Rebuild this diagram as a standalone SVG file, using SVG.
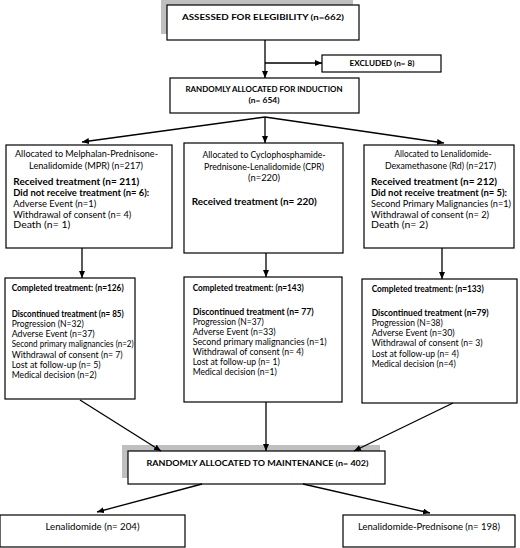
<svg xmlns="http://www.w3.org/2000/svg" width="520" height="548" viewBox="0 0 520 548">
<defs>
<marker id="ah" markerUnits="userSpaceOnUse" markerWidth="7" markerHeight="6" refX="7" refY="3" orient="auto">
<path d="M0,0 L7,3 L0,6 z" fill="#000"/>
</marker>
<style>
.box{fill:#fff;stroke:#000;stroke-width:1.2}
.sh{fill:#bfbfbf;stroke:none}
.t{font-family:Lato,"Liberation Sans",Arial,sans-serif;font-size:8.8px;fill:#000}
.b{font-weight:bold;font-size:9.1px}
.s{font-size:8.5px}
.s.b{font-size:8.7px}
.h{font-family:Lato,"Liberation Sans",Arial,sans-serif;font-size:8px;font-weight:bold;fill:#000}
.c{text-anchor:middle}
.ln{stroke:#000;stroke-width:1.3;fill:none}
</style>
</defs>
<rect width="520" height="548" fill="#fff"/>

<g id="assessed">
<rect class="sh" x="161" y="-1" width="192" height="35"/>
<rect class="box" x="167" y="5" width="192" height="35"/>
<text class="h c" x="263" y="20" textLength="162" lengthAdjust="spacingAndGlyphs">ASSESSED FOR ELEGIBILITY (n=662)</text>
</g>

<g id="excluded">
<rect class="box" x="322" y="55" width="119" height="17"/>
<text class="h c" x="382" y="66" style="font-size:7px" textLength="65" lengthAdjust="spacingAndGlyphs">EXCLUDED (n= 8)</text>
</g>

<g id="induction">
<rect class="box" x="170" y="78" width="189" height="35"/>
<text class="h c" x="264" y="92" style="font-size:7.6px" textLength="157" lengthAdjust="spacingAndGlyphs">RANDOMLY ALLOCATED FOR INDUCTION</text>
<text class="h c" x="264" y="103" style="font-size:7.6px" textLength="31" lengthAdjust="spacingAndGlyphs">(n= 654)</text>
</g>

<g id="mpr">
<rect class="box" x="6" y="145" width="166" height="103"/>
<text class="t c" x="86.5" y="157" textLength="143" lengthAdjust="spacingAndGlyphs">Allocated to Melphalan-Prednisone-</text>
<text class="t c" x="86" y="169" textLength="114" lengthAdjust="spacingAndGlyphs">Lenalidomide (MPR) (n=217)</text>
<text class="t b" x="13.3" y="185" textLength="126" lengthAdjust="spacingAndGlyphs">Received treatment (n= 211)</text>
<text class="t b" x="13.3" y="196" textLength="136" lengthAdjust="spacingAndGlyphs">Did not receive treatment (n= 6):</text>
<text class="t" x="13.3" y="207" textLength="83" lengthAdjust="spacingAndGlyphs">Adverse Event (n=1)</text>
<text class="t" x="13.3" y="218" textLength="118" lengthAdjust="spacingAndGlyphs">Withdrawal of consent (n= 4)</text>
<text class="t" x="13.3" y="228" textLength="57" lengthAdjust="spacingAndGlyphs">Death (n= 1)</text>
</g>

<g id="cpr">
<rect class="box" x="184" y="143" width="159" height="110"/>
<text class="t c" x="264" y="158" textLength="123" lengthAdjust="spacingAndGlyphs">Allocated to Cyclophosphamide-</text>
<text class="t c" x="264" y="170" textLength="120" lengthAdjust="spacingAndGlyphs">Prednisone-Lenalidomide (CPR)</text>
<text class="t c" x="264" y="181" textLength="32" lengthAdjust="spacingAndGlyphs">(n=220)</text>
<text class="t b" x="191.7" y="205" textLength="125" lengthAdjust="spacingAndGlyphs">Received treatment (n= 220)</text>
</g>

<g id="rd">
<rect class="box" x="364" y="145" width="150" height="103"/>
<text class="t c" x="443" y="157" textLength="97" lengthAdjust="spacingAndGlyphs">Allocated to Lenalidomide-</text>
<text class="t c" x="440.5" y="169" textLength="111" lengthAdjust="spacingAndGlyphs">Dexamethasone (Rd) (n=217)</text>
<text class="t b" x="371" y="185" textLength="126" lengthAdjust="spacingAndGlyphs">Received treatment (n= 212)</text>
<text class="t b" x="371" y="196" textLength="136" lengthAdjust="spacingAndGlyphs">Did not receive treatment (n= 5):</text>
<text class="t" x="371" y="207" textLength="140" lengthAdjust="spacingAndGlyphs">Second Primary Malignancies (n=1)</text>
<text class="t" x="371" y="218" textLength="118" lengthAdjust="spacingAndGlyphs">Withdrawal of consent (n= 2)</text>
<text class="t" x="371" y="228" textLength="57" lengthAdjust="spacingAndGlyphs">Death (n= 2)</text>
</g>

<g id="mpr2">
<rect class="box" x="5" y="278" width="130" height="121"/>
<text class="t s b" x="11.7" y="291" textLength="112" lengthAdjust="spacingAndGlyphs">Completed treatment: (n=126)</text>
<text class="t s b" x="11.7" y="317" textLength="112" lengthAdjust="spacingAndGlyphs">Discontinued treatment (n= 85)</text>
<text class="t s" x="11.7" y="327" textLength="72" lengthAdjust="spacingAndGlyphs">Progression (N=32)</text>
<text class="t s" x="11.7" y="337" textLength="83" lengthAdjust="spacingAndGlyphs">Adverse Event (n=37)</text>
<text class="t s" x="11.7" y="347" textLength="122" lengthAdjust="spacingAndGlyphs">Second primary malignancies (n=2)</text>
<text class="t s" x="11.7" y="358" textLength="111" lengthAdjust="spacingAndGlyphs">Withdrawal of consent (n= 7)</text>
<text class="t s" x="11.7" y="368" textLength="89" lengthAdjust="spacingAndGlyphs">Lost at follow-up (n= 5)</text>
<text class="t s" x="11.7" y="378" textLength="85" lengthAdjust="spacingAndGlyphs">Medical decision (n=2)</text>
</g>

<g id="cpr2">
<rect class="box" x="184" y="277" width="158" height="125"/>
<text class="t s b" x="192.7" y="291" textLength="111" lengthAdjust="spacingAndGlyphs">Completed treatment: (n=143)</text>
<text class="t s b" x="192.7" y="315" textLength="121" lengthAdjust="spacingAndGlyphs">Discontinued treatment (n= 77)</text>
<text class="t s" x="192.7" y="325" textLength="71" lengthAdjust="spacingAndGlyphs">Progression (N=37)</text>
<text class="t s" x="192.7" y="335" textLength="83" lengthAdjust="spacingAndGlyphs">Adverse Event (n=33)</text>
<text class="t s" x="192.7" y="345" textLength="134" lengthAdjust="spacingAndGlyphs">Second primary malignancies (n=1)</text>
<text class="t s" x="192.7" y="355" textLength="111" lengthAdjust="spacingAndGlyphs">Withdrawal of consent (n= 4)</text>
<text class="t s" x="192.7" y="365" textLength="87" lengthAdjust="spacingAndGlyphs">Lost at follow-up (n= 1)</text>
<text class="t s" x="192.7" y="375" textLength="84" lengthAdjust="spacingAndGlyphs">Medical decision (n=1)</text>
</g>

<g id="rd2">
<rect class="box" x="362" y="279" width="155" height="124"/>
<text class="t s b" x="371.7" y="292" textLength="112" lengthAdjust="spacingAndGlyphs">Completed treatment: (n=133)</text>
<text class="t s b" x="371.7" y="316" textLength="117" lengthAdjust="spacingAndGlyphs">Discontinued treatment (n=79)</text>
<text class="t s" x="371.7" y="326" textLength="71" lengthAdjust="spacingAndGlyphs">Progression (N=38)</text>
<text class="t s" x="371.7" y="336" textLength="83" lengthAdjust="spacingAndGlyphs">Adverse Event (n=30)</text>
<text class="t s" x="371.7" y="346" textLength="111" lengthAdjust="spacingAndGlyphs">Withdrawal of consent (n= 3)</text>
<text class="t s" x="371.7" y="357" textLength="87" lengthAdjust="spacingAndGlyphs">Lost at follow-up (n= 4)</text>
<text class="t s" x="371.7" y="367" textLength="84" lengthAdjust="spacingAndGlyphs">Medical decision (n=4)</text>
</g>

<g id="maintenance">
<rect class="sh" x="122" y="445" width="258" height="33"/>
<rect class="box" x="128" y="451" width="257" height="33"/>
<text class="h c" x="257.5" y="466" style="font-size:8px" textLength="222" lengthAdjust="spacingAndGlyphs">RANDOMLY ALLOCATED TO MAINTENANCE (n= 402)</text>
</g>

<g id="len">
<rect class="box" x="0" y="515" width="185" height="32"/>
<text class="t c" x="92.5" y="530" textLength="94" lengthAdjust="spacingAndGlyphs">Lenalidomide (n= 204)</text>
</g>

<g id="lenpred">
<rect class="box" x="343" y="515" width="172" height="32"/>
<text class="t c" x="429" y="530" textLength="142" lengthAdjust="spacingAndGlyphs">Lenalidomide-Prednisone (n= 198)</text>
</g>

<g id="connectors">
<line class="ln" x1="265" y1="40" x2="265" y2="78" marker-end="url(#ah)"/>
<line class="ln" x1="265" y1="63" x2="322" y2="63" marker-end="url(#ah)"/>
<line class="ln" x1="265" y1="117" x2="82" y2="142" marker-end="url(#ah)"/>
<line class="ln" x1="265" y1="117" x2="265" y2="143" marker-end="url(#ah)"/>
<line class="ln" x1="265" y1="117" x2="444" y2="143" marker-end="url(#ah)"/>
<line class="ln" x1="82" y1="248" x2="82" y2="278" marker-end="url(#ah)"/>
<line class="ln" x1="266" y1="253" x2="266" y2="277" marker-end="url(#ah)"/>
<line class="ln" x1="442" y1="248" x2="442" y2="279" marker-end="url(#ah)"/>
<line class="ln" x1="80" y1="400" x2="161" y2="451" marker-end="url(#ah)"/>
<line class="ln" x1="266" y1="402" x2="266" y2="451" marker-end="url(#ah)"/>
<line class="ln" x1="453" y1="403" x2="354" y2="451" marker-end="url(#ah)"/>
<line class="ln" x1="202" y1="484" x2="97" y2="512" marker-end="url(#ah)"/>
<line class="ln" x1="303" y1="484" x2="430" y2="513" marker-end="url(#ah)"/>
</g>
</svg>
